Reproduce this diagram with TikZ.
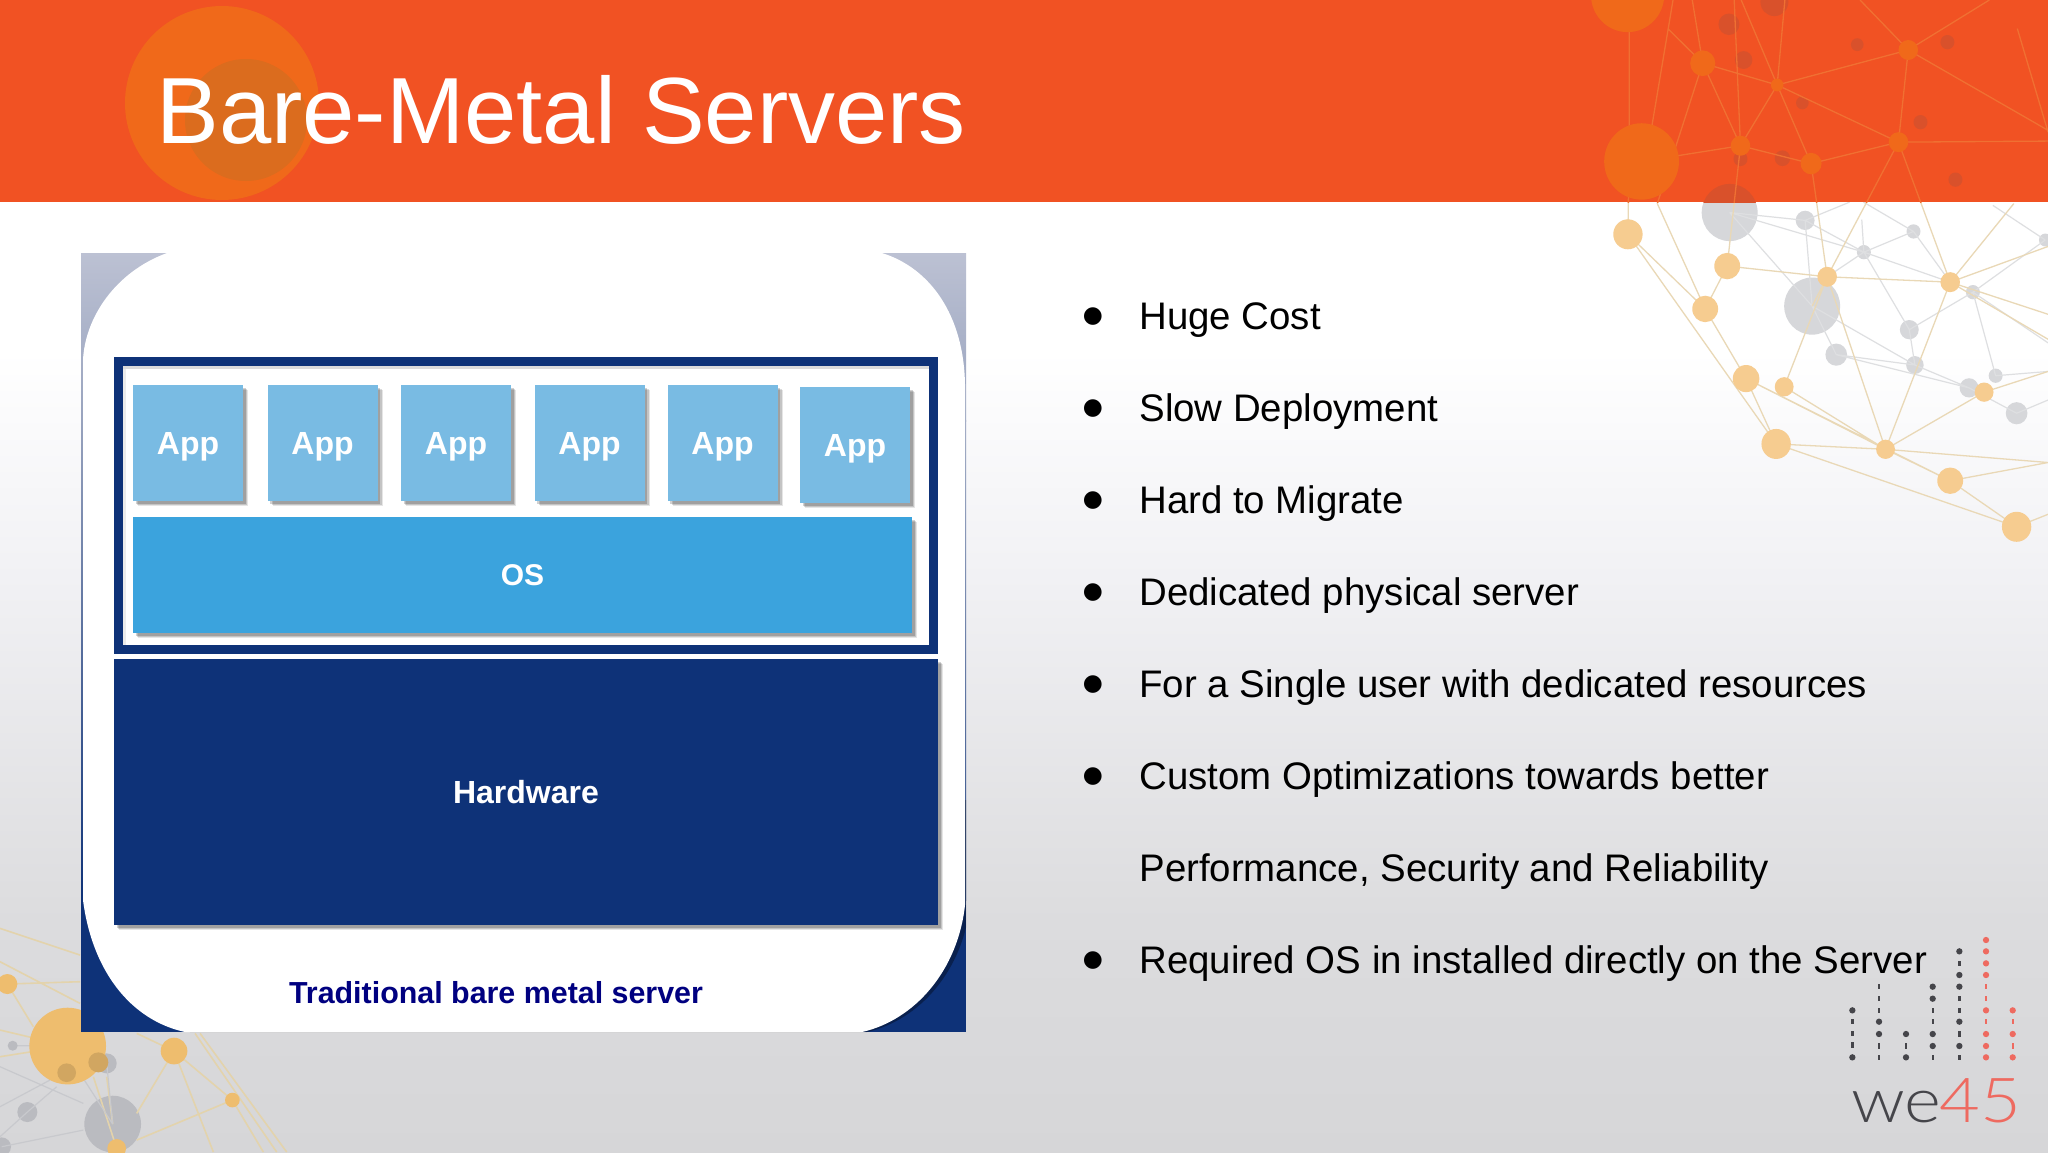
\documentclass[tikz,border=0pt]{standalone}
\usepackage{fontspec}
\setmainfont{Liberation Sans}
\newfontfamily\bulletfont{DejaVu Sans}
\newfontfamily\logofont[UprightFont=* Light]{Lato}
\usetikzlibrary{shadows}
\definecolor{banner}{HTML}{F15223}
\definecolor{bannerdot}{HTML}{F0691A}
\definecolor{bannerdark}{HTML}{DB6C1E}
\definecolor{bannerline}{HTML}{F07032}
\definecolor{bannershade}{HTML}{D9512B}
\definecolor{netorange}{HTML}{F6CC90}
\definecolor{netline}{HTML}{E9D8B6}
\definecolor{netgray}{HTML}{D6D7DA}
\definecolor{netgrayline}{HTML}{DEDFE1}
\definecolor{lowerorange}{HTML}{EEBD6E}
\definecolor{lowerline}{HTML}{E3D3AC}
\definecolor{lowergray}{HTML}{BABBC0}
\definecolor{navy}{HTML}{0E3278}
\definecolor{capblue}{HTML}{000080}
\definecolor{appblue}{HTML}{79BBE3}
\definecolor{osblue}{HTML}{3BA3DD}
\definecolor{logogray}{HTML}{45454A}
\definecolor{logored}{HTML}{EE6A60}
\definecolor{bgone}{HTML}{F2F2F5}
\definecolor{bgtwo}{HTML}{DCDCDE}
\definecolor{bgthree}{HTML}{D6D6D8}
\definecolor{cornertop}{HTML}{BCC1D3}
\definecolor{cornermid}{HTML}{98A3BE}
\tikzset{
  softshadow/.style={
    drop shadow={shadow xshift=2.6pt,shadow yshift=-2.6pt,fill=black,opacity=.10},
    drop shadow={shadow xshift=2.0pt,shadow yshift=-2.0pt,fill=black,opacity=.14},
    drop shadow={shadow xshift=1.4pt,shadow yshift=-1.4pt,fill=black,opacity=.18}},
  appbox/.style={fill=appblue,minimum width=55pt,minimum height=58pt,inner sep=0pt,text depth=0pt,softshadow,text=white,font=\fontsize{16}{16}\selectfont\bfseries},
  osbox/.style={fill=osblue,minimum width=389.5pt,minimum height=58pt,inner sep=0pt,softshadow,text=white,font=\fontsize{15}{15}\selectfont\bfseries},
  hwbox/.style={fill=navy,minimum width=412pt,minimum height=133pt,inner sep=0pt,softshadow,text=white,font=\fontsize{16}{16}\selectfont\bfseries},
  framebox/.style={draw=navy,line width=4.5pt,fill=white,minimum width=407.5pt,minimum height=144pt,inner sep=0pt},
  bodytext/.style={anchor=base west,inner sep=0pt,text=black,font=\fontsize{19.2}{19.2}\selectfont},
  bulletmark/.style={anchor=center,inner sep=0pt,text=black,font=\bulletfont\fontsize{11.5}{11.5}\selectfont},
  titletext/.style={anchor=base west,inner sep=0pt,text=white,font=\fontsize{47}{47}\selectfont},
  captext/.style={anchor=base,inner sep=0pt,text=capblue,font=\fontsize{15.2}{15.2}\selectfont\bfseries},
}
% panel's white outline
\def\panelpath{(83,360) .. controls (85,318) and (115,272) .. (167,253) -- (882,253)
  .. controls (930,268) and (964,315) .. (965,385) -- (965,905)
  .. controls (958,970) and (915,1020) .. (862,1032) -- (185,1032)
  .. controls (130,1020) and (92,970) .. (83,900) -- cycle}
% upper-right network, connecting lines that cross the banner's edge
\def\warmedges{
  (A)--(C) (A)--(F) (C)--(B) (C)--(D) (D)--(F) (D)--(G) (E)--(G) (E)--(J) (F)--(G) (F)--(I)
  (G)--(H) (G)--(J) (G)--(K) (G)--(L) (H)--(I) (B)--(J) (J)--(K)
  (A)--(370,350) (370,90)--(370,350) (495,0)--(T2) (C)--(T3) (T3)--(T6) (T4)--(T6)
  (T5)--(T8) (T6)--(T7) (T6)--(T8) (T7)--(T8) (T7)--(T9) (T7)--(T10)
  (T8)--(T9) (T8)--(B) (T9)--(T10) (T9)--(J) (T10)--(1568,395) (T10)--(J) (T10)--(K)
  (T11)--(T10) (T11)--(T7) (T11)--(1568,365) (T11)--(1400,0) (T11)--(1030,0)
  (670,0)--(T8) (550,0)--(T6) (690,0)--(T7) (815,0)--(T7) (1480,80)--(1568,370)
  (1470,570)--(K) (K)--(1568,690) (K)--(1568,880) (K)--(1568,950) (L)--(1568,1040)
  (H)--(1568,1295) (G)--(1568,1295) (I)--(1568,1440) (J)--(J2) (D)--(H)
}
\begin{document}
\begin{tikzpicture}[x=0.5pt,y=-0.5pt]
\useasboundingbox (0,0) rectangle (2048,1152);
% background
\fill[white] (0,0) rectangle (2048,352);
\shade[top color=white,bottom color=bgone] (0,350) rectangle (2048,561);
\shade[top color=bgone,bottom color=bgtwo] (0,560) rectangle (2048,921);
\shade[top color=bgtwo,bottom color=bgthree] (0,920) rectangle (2048,1152);
% banner
\fill[banner] (0,0) rectangle (2048,202);
\fill[bannerdot] (222,103) circle [radius=97];
\fill[bannerdark] (246,120) circle [radius=61];

% upper-right network
\begin{scope}[shift={(1500,0)},x=0.17476pt,y=-0.17857pt]
  \foreach \n/\px/\py in {A/366/656,B/650/745,C/587/865,D/704/1060,E/813/1083,F/790/1243,G/1103/1258,H/1288/1346,I/1478/1475,J/936/775,K/1288/790,L/1385/1098,J2/893/857,
    T2/435/350,T3/450/570,T4/480/80,T5/405/452,T6/580/177,T7/793/238,T8/688/408,T9/890/458,T10/1140/398,T11/1168/140,
    U1/657/595,U2/873/617,U3/1183/648,U4/1041/706,U5/1560/672,U6/893/857,U7/1171/923,U8/962/993,U9/1187/1022,U10/1353/818,U11/1342/1086,U12/1418/1052,U13/1478/1157}
    {\coordinate (\n) at (\px,\py);}
  % lower part: grey, then warm lines
  \begin{scope}
    \clip (-10,566) rectangle (1600,1600);
    \fill[netgray] (U1) circle [radius=80];
    \foreach \n/\r in {U2/27,U3/20,U4/20,U5/18,U6/80,U7/27,U8/31,U9/25,U10/20,U11/27,U12/20,U13/31}
      \fill[netgray] (\n) circle [radius=\r];
    \draw[netgrayline,line width=.6pt] (U1)--(U2) (U2)--(U4) (U4)--(U3) (U4)--(K) (U4)--(U7) (U3)--(K)
      (U10)--(U7) (U7)--(U9) (U8)--(U9) (U6)--(U9) (U8)--(U11) (U9)--(U11) (U11)--(U13) (U10)--(U12)
      (U12)--(1568,1040) (U13)--(1568,1120) (U10)--(1568,960) (U5)--(1410,575) (U5)--(U10) (U4)--(J)
      (U2)--(1000,566) (U3)--(1040,566) (U1)--(U6) (U1)--(U4) (U2)--(U6) (U8)--(U6) (U4)--(1035,615);
    \draw[netline,line width=.65pt] \warmedges;
    \foreach \n/\r in {A/42,B/37,C/37,D/38,E/27,F/42,G/27,H/37,I/42,J/28,K/28,L/27}
      \fill[netorange] (\n) circle [radius=\r];
  \end{scope}
  % banner part
  \begin{scope}
    \clip (-20,0) rectangle (1600,566);
    \foreach \px/\py/\r in {655/68/30,697/168/25,785/5/40,865/288/18,1022/125/18,1280/118/20,1203/342/20,1303/503/20,808/443/22,688/445/20,657/595/80}
      \fill[bannershade] (\px,\py) circle [radius=\r];
    \draw[bannerline,line width=.65pt] \warmedges;
    \fill[bannerdot] (365,-15) circle [radius=105];
    \fill[bannerdot] (T5) circle [radius=107];
    \foreach \n/\r in {T6/36,T7/18,T8/28,T9/30,T10/28,T11/28}
      \fill[bannerdot] (\n) circle [radius=\r];
  \end{scope}
\end{scope}

% lower-left network
\begin{scope}[shift={(0,900)},x=0.1667pt,y=-0.1667pt]
  \foreach \n/\px/\py in {V1/22/252,V2/203/438,V3/522/453,V4/697/600,V5/350/745,V6/338/672,V7/82/636,V8/5/740,V9/38/437,V10/200/518,V11/295/487,V12/320/490}
    {\coordinate (\n) at (\px,\py);}
  \clip (0,0) rectangle (960,756);
  \fill[lowergray] (V6) circle [radius=85];
  \fill[lowergray] (V7) circle [radius=30];
  \fill[lowergray] (V8) circle [radius=28];
  \fill[lowergray] (V12) circle [radius=30];
  \draw[lowerline,line width=.8pt] (0,85)--(240,165) (0,185)--(240,310) (V1)--(240,245) (600,400)--(860,756) (585,400)--(830,756)
    (V3)--(V4) (V3)--(410,640) (V3)--(640,756) (V4)--(410,720) (V4)--(790,756) (V2)--(0,390) (V2)--(0,470)
    (V1)--(100,380) (V3)--(410,400) (V5)--(280,530) (V6)--(320,530);
  \draw[lowergray!80,line width=.6pt] (V7)--(170,560) (V7)--(0,710) (V6)--(240,520) (V8)--(250,690) (0,500)--(250,610) (0,620)--(150,540) (V2)--(V9) (V12)--(V6);
  \fill[lowerorange] (V1) circle [radius=30];
  \fill[lowerorange] (V2) circle [radius=115];
  \fill[lowerorange] (V3) circle [radius=40];
  \fill[lowerorange] (V4) circle [radius=22];
  \fill[lowerorange] (V5) circle [radius=28];
  \fill[lowerorange!88!black] (V10) circle [radius=28];
  \fill[lowerorange!88!black] (V11) circle [radius=30];
  \fill[lowergray] (V9) circle [radius=15];
\end{scope}

% panel
\shade[top color=cornertop,bottom color=cornermid] (81,253) rectangle (966,421);
\shade[top color=cornermid,bottom color=navy] (81,420) rectangle (966,900);
\fill[navy] (81,899) rectangle (966,1032);
\begin{scope}
  \clip (81,800) rectangle (966,1032);
  \fill[black,opacity=.35,shift={(5,0)}] \panelpath;
\end{scope}
\fill[white] \panelpath;

\node[framebox] (frame) at (526,505.5) {};
\fill[black,opacity=.14] (123,366) rectangle (929,369);
\fill[black,opacity=.08] (123,369) rectangle (126,645);
\node[appbox] (app1) at (188,443) {App};
\node[appbox] (app2) at (322.5,443) {App};
\node[appbox] (app3) at (456,443) {App};
\node[appbox] (app4) at (589.5,443) {App};
\node[appbox] (app5) at (722.5,443) {App};
\node[appbox] (app6) at (855,445) {App};
\node[osbox] (os) at (522.5,575) {OS};
\node[hwbox] (hw) at (526,792) {Hardware};
\node[captext] (cap) at (496,1003) {Traditional bare metal server};

% title
\node[titletext] (title) at (156,143) {Bare-Metal Servers};

% bullets
\foreach \nm/\yy/\tx in {b1/329/Huge Cost,b2/421/Slow Deployment,b3/513/Hard to Migrate,b4/605/Dedicated physical server,b5/697/For a Single user with dedicated resources,b6/789/{Custom Optimizations towards better},b8/973/Required OS in installed directly on the Server}{
  \node[bodytext] (\nm) at (1139,\yy) {\tx};
  \node[bulletmark] (\nm m) at (1093,\yy-12) {●};
}
\node[bodytext] (b7) at (1139,881) {Performance, Security and Reliability};

% logo
\begin{scope}[shift={(1800,920)},x=0.16667pt,y=-0.16667pt]
  \foreach \xx/\col/\dots/\dashes in {
    157/logogray/{271,412}/{305,340,375},
    237/logogray/{305,342}/{200,236,271,378,412},
    318/logogray/{342,412}/{378},
    398/logogray/{200,236,342,378}/{271,305,412},
    478/logogray/{94,165,200,305,378}/{130,236,271,342,412},
    558/logored/{60,94,130,165,271,342,378,412}/{200,236,305},
    638/logored/{271,342,412}/{305,378}}{
    \foreach \yy in \dots {\fill[\col] (\xx,\yy) circle [radius=9.5];}
    \foreach \yy in \dashes {\fill[\col] (\xx-3.5,\yy-8) rectangle (\xx+3.5,\yy+8);}
  }
\end{scope}
\node[anchor=base west,inner sep=0pt,font=\logofont\fontsize{31}{31}\selectfont] (logo) at (1851,1122) {\scalebox{1.136}[1]{\textcolor{logogray}{we}\kern-1pt\textcolor{logored}{45}}};
\end{tikzpicture}
\end{document}
